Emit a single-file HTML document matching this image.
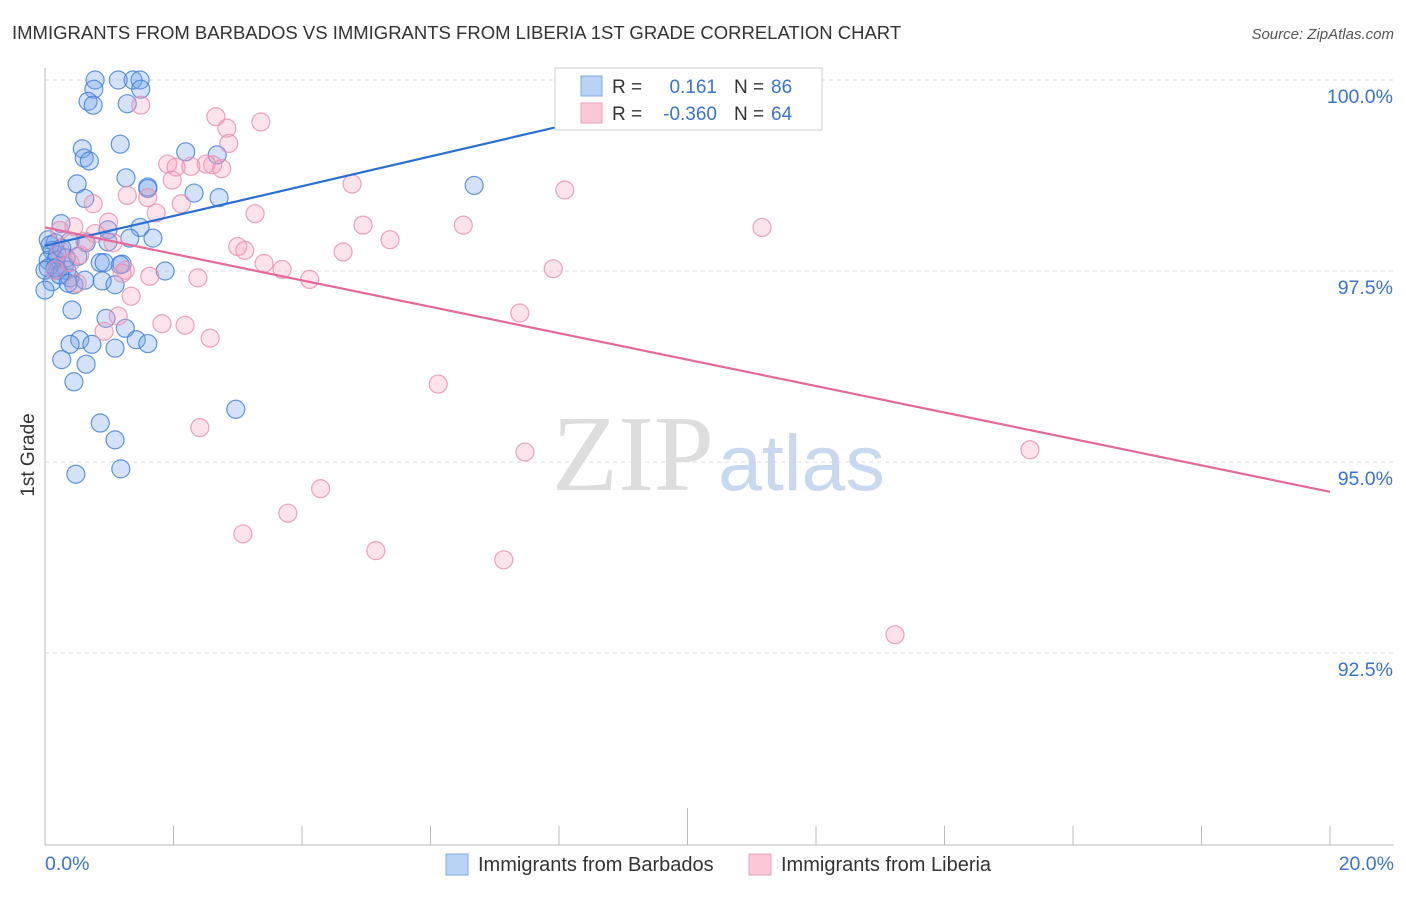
<!DOCTYPE html>
<html><head><meta charset="utf-8"><style>
body{margin:0;background:#fff;font-family:"Liberation Sans",sans-serif}
</style></head><body>
<svg id="chart" width="1406" height="892" xmlns="http://www.w3.org/2000/svg">
<text x="12" y="39" font-size="18.5" fill="#333">IMMIGRANTS FROM BARBADOS VS IMMIGRANTS FROM LIBERIA 1ST GRADE CORRELATION CHART</text>
<text x="1394" y="39" font-size="15" fill="#555" font-style="italic" text-anchor="end">Source: ZipAtlas.com</text>
<text transform="translate(34,455) rotate(-90)" font-size="19" fill="#333" text-anchor="middle">1st Grade</text>
<g id="grid"></g>
<text x="714" y="490" font-size="108" fill="#ddd" text-anchor="end" font-family="Liberation Serif">ZIP</text>
<text x="718" y="490" font-size="79" fill="#c8d8ee">atlas</text>
<g id="pts"></g>
<g id="lines"></g>
<g>
<rect x="555" y="68" width="267" height="62" fill="#fff" stroke="#ccc"/>
<rect x="581" y="76" width="21" height="20" fill="#b8d3f5" stroke="#7fa8e0"/>
<rect x="581" y="103" width="21" height="20" fill="#fbc8d8" stroke="#eea2bd"/>
<text x="612" y="93" font-size="19" fill="#333">R = </text><text x="717" y="93" font-size="19" fill="#3a73d0" text-anchor="end">0.161</text>
<text x="734" y="93" font-size="19" fill="#333">N = </text><text x="771" y="93" font-size="19" fill="#3a73d0">86</text>
<text x="612" y="120" font-size="19" fill="#333">R = </text><text x="717" y="120" font-size="19" fill="#3a73d0" text-anchor="end">-0.360</text>
<text x="734" y="120" font-size="19" fill="#333">N = </text><text x="771" y="120" font-size="19" fill="#3a73d0">64</text>
</g>
<text x="45" y="870" font-size="19.5" fill="#3a73d0">0.0%</text>
<text x="1394" y="870" font-size="19.5" fill="#3a73d0" text-anchor="end">20.0%</text>
<g>
<rect x="446" y="854" width="22" height="21" fill="#b8d3f5" stroke="#7fa8e0"/>
<text x="478" y="871" font-size="20" fill="#333">Immigrants from Barbados</text>
<rect x="749" y="854" width="22" height="21" fill="#fbc8d8" stroke="#eea2bd"/>
<text x="781" y="871" font-size="20" fill="#333">Immigrants from Liberia</text>
</g>
</svg>
<script>
const yTicks=[100,97.5,95,92.5];
const yTickLabels=["100.0%","97.5%","95.0%","92.5%"];
const xTicks=[0,2,4,6,8,10,12,14,16,18,20];
const blueX=[0.78,1.14,1.37,1.48,0.76,1.49,0.67,0.75,1.28,1.17,0.58,0.61,0.69,2.19,2.68,0.5,1.26,1.6,1.6,2.32,2.71,0.62,6.68,0.25,1.48,0.98,1.68,1.32,0.05,0.16,0.39,0.64,0.98,0.11,0.05,0.17,0.3,0.51,0.86,0.92,1.2,1.87,0.2,0.34,0.05,0.39,0.45,0.89,1.09,0.11,0,0.42,0.95,1.25,1.42,1.6,0.54,0.39,0.73,1.09,0.26,0.64,0.45,2.97,0.86,1.09,1.18,0.48,0.23,0.19,0.08,0.33,0.26,0.62,1.17,0,0.16,0.36];
const blueY=[100,100,100,100,99.88,99.88,99.72,99.67,99.69,99.16,99.1,98.98,98.94,99.06,99.02,98.64,98.72,98.6,98.58,98.52,98.46,98.45,98.62,98.12,98.07,98.04,97.93,97.93,97.91,97.87,97.89,97.87,97.88,97.77,97.64,97.64,97.57,97.69,97.61,97.61,97.59,97.5,97.51,97.51,97.54,97.41,97.32,97.37,97.32,97.36,97.25,96.99,96.88,96.75,96.6,96.55,96.6,96.54,96.54,96.49,96.34,96.28,96.05,95.69,95.51,95.29,94.91,94.84,97.45,97.71,97.84,97.67,97.8,97.38,97.58,97.51,97.54,97.34];
const pinkX=[9.42,1.49,2.66,3.36,2.83,2.86,1.91,2.61,2.51,2.04,2.27,2.75,1.98,2.12,4.78,8.09,1.28,1.6,0.75,1.73,3.27,0.99,0.45,4.95,6.51,11.16,5.37,3.0,3.11,4.64,0.62,0.78,1.06,3.41,3.69,7.91,4.12,1.25,1.63,2.38,1.2,0.5,7.39,1.34,0.92,1.82,2.18,2.57,1.14,6.12,2.41,7.47,15.33,4.29,3.78,3.08,5.15,7.14,13.23,0.23,0.39,0.16,0.54,0.23];
const pinkY=[100.03,99.67,99.52,99.45,99.37,99.17,98.9,98.89,98.9,98.86,98.87,98.84,98.69,98.38,98.64,98.56,98.49,98.46,98.38,98.26,98.25,98.14,98.08,98.1,98.1,98.07,97.91,97.82,97.77,97.75,97.89,97.99,97.87,97.6,97.52,97.53,97.39,97.51,97.43,97.41,97.47,97.34,96.95,97.17,96.71,96.81,96.79,96.62,96.91,96.02,95.45,95.13,95.16,94.65,94.33,94.06,93.84,93.72,92.74,97.77,97.61,97.51,97.71,98.03];
const blueLine=[0,97.83,8,99.39];
const pinkLine=[0,98.07,20,94.61];
const X=v=>45+v*64.25, Y=v=>80+(100-v)*76.4;
const NS="http://www.w3.org/2000/svg";
const grid=document.getElementById('grid'),pts=document.getElementById('pts'),lines=document.getElementById('lines');
function mk(tag,a,p){const e=document.createElementNS(NS,tag);for(const k in a)e.setAttribute(k,a[k]);p.appendChild(e);return e;}
yTicks.forEach((t,i)=>{
 const l=mk('line',{x1:45,x2:1394,y1:Y(t),y2:Y(t),stroke:'#ddd','stroke-dasharray':'4,4'},grid);
 
 
 const tx=mk('text',{x:1393,y:Y(t)+23,'font-size':19.5,fill:'#3a73d0','text-anchor':'end'},grid);
 tx.textContent=yTickLabels[i];
 
 
});
const ax=mk('line',{x1:45,x2:45,y1:68,y2:845,stroke:'#bbb'},grid);


const bx=mk('line',{x1:45,x2:1394,y1:845,y2:845,stroke:'#bbb'},grid);


xTicks.forEach(t=>{
 const tk=mk('line',{x1:X(t),x2:X(t),y1:(t==10?808:826),y2:845,stroke:'#bbb'},grid);
 
 
});
blueX.forEach((v,i)=>{
 const c=mk('circle',{cx:X(v),cy:Y(blueY[i]),r:9,fill:'rgba(110,160,235,0.3)',stroke:'rgba(60,125,215,0.8)','stroke-width':1.2},pts);
 
 
});
pinkX.forEach((v,i)=>{
 const c=mk('circle',{cx:X(v),cy:Y(pinkY[i]),r:9,fill:'rgba(245,160,190,0.3)',stroke:'rgba(232,140,175,0.8)','stroke-width':1.2},pts);
 
 
});
const bl=mk('line',{x1:X(blueLine[0]),y1:Y(blueLine[1]),x2:X(blueLine[2]),y2:Y(blueLine[3]),stroke:'#2a6fd6','stroke-width':2.2},lines);


const pl=mk('line',{x1:X(pinkLine[0]),y1:Y(pinkLine[1]),x2:X(pinkLine[2]),y2:Y(pinkLine[3]),stroke:'#e5699a','stroke-width':2.2},lines);


</script>
</body></html>
